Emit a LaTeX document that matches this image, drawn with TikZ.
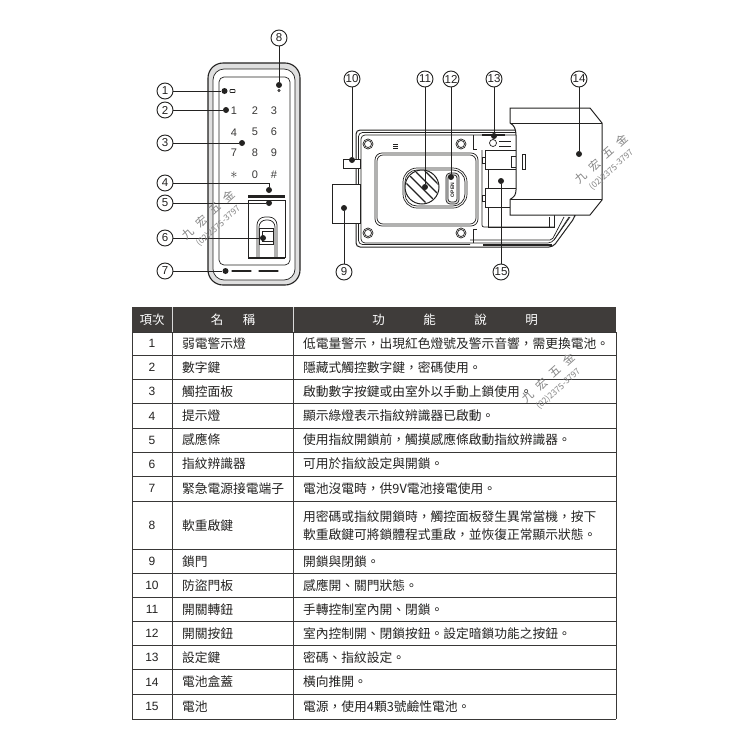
\documentclass[tikz,border=0pt]{standalone}
\usepackage{fontspec}
\setmainfont{Liberation Sans}
\newfontfamily\cjk{Noto Sans CJK TC}
\usetikzlibrary{positioning}
\newcommand{\fwcomma}{\symbol{"FF0C}}
\definecolor{inkdark}{HTML}{232221}
\definecolor{headdark}{HTML}{3F3C3A}
\definecolor{markgray}{HTML}{858585}
\tikzset{
  callout/.style={draw=inkdark, circle, line width=.9pt, minimum size=16pt, inner sep=0pt, font=\fontsize{11.5}{11.5}\selectfont, text=inkdark},
  spot/.style={fill=inkdark, circle, minimum size=6pt, inner sep=0pt},
  leader/.style={draw=inkdark, line width=.9pt},
  outline/.style={draw=inkdark, line width=.7pt},
  keydigit/.style={inner sep=0pt, font=\fontsize{11}{11}\selectfont, text=inkdark!90},
  headtext/.style={inner sep=0pt, text=white, font=\cjk\fontsize{12.5}{12.5}\selectfont},
  numtext/.style={inner sep=0pt, text=inkdark, font=\fontsize{12}{12}\selectfont},
  celltext/.style={inner sep=0pt, anchor=west, text=inkdark, align=left, font=\cjk\fontsize{12.75}{18}\selectfont},
  rowline/.style={draw=inkdark!90, line width=.9pt},
  stamp/.style={inner sep=0pt, rotate=42, text=markgray, align=center, font=\cjk\fontsize{11.5}{11.5}\selectfont}
}
\begin{document}
\begin{tikzpicture}[x=1pt,y=-1pt]
\useasboundingbox (0,0) rectangle (750,750);
\fill[white] (0,0) rectangle (750,750);
\draw[outline, line width=1.1pt, fill=gray!25, rounded corners=15pt] (208,63) rectangle (300,285);
\draw[outline, fill=white, rounded corners=11pt] (213,69) rectangle (295,280);
\draw[outline, rounded corners=5pt] (219,77) rectangle (290,265);
\draw[outline, rounded corners=.5pt] (230,89.5) rectangle (235,92.5);
\draw[outline] (279,90.5) circle[radius=1.2pt];
\node[keydigit] (k1) at (234,111) {1};
\node[keydigit] (k2) at (255,111) {2};
\node[keydigit] (k3) at (274,111) {3};
\node[keydigit] (k4) at (234,133) {4};
\node[keydigit] (k5) at (255,132) {5};
\node[keydigit] (k6) at (274,132) {6};
\node[keydigit] (k7) at (234,153) {7};
\node[keydigit] (k8) at (255,153) {8};
\node[keydigit] (k9) at (274,153) {9};
\node[keydigit] (kstar) at (234,175) {\Large$\ast$};
\node[keydigit] (k0) at (255,175) {0};
\node[keydigit] (khash) at (274,175) {\#};
\fill[inkdark] (248,195) rectangle (285,198);
\draw[outline] (248,200) rectangle (285,257);
\draw[inkdark, line width=1.2pt] (248,258) -- (285,258);
\draw[outline, rounded corners=8pt] (257,257) -- (257,217) -- (277,217) -- (277,257);
\draw[outline, rounded corners=7pt] (259,257) -- (259,220) -- (275,220) -- (275,257);
\draw[outline, fill=white] (259,228) rectangle (273,244);
\draw[outline] (262,231) rectangle (273,241);
\draw[inkdark, line width=1.2pt, line cap=round] (232,271) -- (251,271);
\draw[inkdark, line width=1.2pt, line cap=round] (259,271) -- (278,271);
\draw[outline, line width=1pt, fill=white, rounded corners=4pt] (356,130) -- (520,130) -- (520,210) -- (575,210) -- (575,217) -- (553,247) -- (356,247) -- cycle;
\draw[outline, rounded corners=4pt] (520,132.5) -- (358.5,132.5) -- (358.5,244.5) -- (470,244.5);
\draw[outline, rounded corners=4pt] (520,135) -- (361,135) -- (361,243) -- (552,243) -- (569,217);
\draw[outline, rounded corners=2pt] (470,240) -- (552,240) -- (564,217);
\draw[outline] (570,217) -- (554,240);
\draw[outline] (473,135) -- (473,149) -- (477,149);
\draw[outline] (473,243) -- (473,229) -- (477,229);
\draw[inkdark, line width=1.4pt] (483,245) -- (552,245);
\draw[inkdark, line width=1.2pt] (482,135) -- (505,135);
\draw[outline] (493,143) circle[radius=3.5pt];
\draw[outline] (499,141) -- (511,141);
\draw[outline] (499,146) -- (511,146);
\draw[outline] (393,144) -- (398,144);
\draw[outline] (393,146) -- (398,146);
\draw[outline] (393,148) -- (398,148);
\draw[outline] (368,144) circle[radius=5pt];
\draw[outline] (368,144) circle[radius=3.5pt];
\draw[outline] (461,144) circle[radius=5pt];
\draw[outline] (461,144) circle[radius=3.5pt];
\draw[outline] (368,233) circle[radius=5pt];
\draw[outline] (368,233) circle[radius=3.5pt];
\draw[outline] (461,233) circle[radius=5pt];
\draw[outline] (461,233) circle[radius=3.5pt];
\draw[outline, rounded corners=7pt] (375,153) rectangle (478,226);
\draw[outline, rounded corners=6pt] (377,155) rectangle (476,224);
\draw[outline, rounded corners=14pt] (403,168) rectangle (467,208);
\draw[outline, rounded corners=12pt] (405,170) rectangle (465,206);
\draw[outline, line width=1pt, fill=white] (422,187) circle[radius=17pt];
\begin{scope}
\clip (422,187) circle[radius=16pt];
\draw[inkdark, line width=1.2pt] (400,177) -- (430,207);
\draw[inkdark, line width=1.2pt] (404,170) -- (438,204);
\draw[inkdark, line width=1.2pt] (410,166) -- (444,200);
\draw[inkdark, line width=1.2pt] (414,160) -- (448,194);
\end{scope}
\draw[outline, fill=gray!30, rounded corners=4pt] (446,173) rectangle (459,204);
\draw[outline, fill=white, rounded corners=3pt] (448,175) rectangle (457,202);
\node[rotate=90, inner sep=0pt, text=inkdark, font=\fontsize{5}{5}\selectfont\bfseries] (opentag) at (452.5,190) {OPEN};
\draw[outline, rounded corners=2pt] (482,150) -- (482,227) -- (554,227);
\draw[outline] (485,150) rectangle (518,169);
\draw[outline] (485,157) -- (482.5,157) -- (482.5,163) -- (485,163);
\draw[outline] (488,169) rectangle (518,188);
\draw[outline] (485,188) rectangle (518,207);
\draw[outline] (485,195) -- (482.5,195) -- (482.5,201) -- (485,201);
\draw[outline] (488,207) rectangle (554,227);
\draw[outline] (549,217) -- (549,227);
\draw[outline] (511,156) rectangle (516,167);
\draw[outline, fill=white] (343,159) rectangle (360,168);
\draw[outline, fill=white] (332,184) rectangle (360,223);
\draw[outline, line width=1pt, fill=white] (510,108) -- (590,108) -- (602,123) -- (602,200) -- (590,215) -- (510,215) -- (510,199.5) .. controls (514,197) and (516,195) .. (516,190) -- (516,135) .. controls (516,129) and (514,125) .. (510,123) -- cycle;
\draw[outline] (510,123) -- (602,123);
\draw[outline] (510,199.5) -- (602,199.5);
\draw[outline] (522,154) rectangle (525,169);
\node[callout] (c1) at (165,91) {1};
\node[callout] (c2) at (165,110) {2};
\node[callout] (c3) at (165,143) {3};
\node[callout] (c4) at (165,183) {4};
\node[callout] (c5) at (165,203) {5};
\node[callout] (c6) at (165,238) {6};
\node[callout] (c7) at (165,271) {7};
\node[callout] (c8) at (279,38) {8};
\node[callout] (c9) at (344,272) {9};
\node[callout] (c10) at (352,79) {10};
\node[callout] (c11) at (425,79) {11};
\node[callout] (c12) at (451,79) {12};
\node[callout] (c13) at (494,79) {13};
\node[callout] (c14) at (579,79) {14};
\node[callout] (c15) at (501,272) {15};
\node[spot] (d1) at (224.5,91) {};
\node[spot] (d2) at (226,110) {};
\node[spot] (d3) at (242,143) {};
\node[spot] (d4) at (269,190) {};
\node[spot] (d5) at (269,203) {};
\node[spot] (d6) at (263,238) {};
\node[spot] (d7) at (225.5,271) {};
\node[spot] (d8) at (279,85) {};
\node[spot] (d9) at (344,208) {};
\node[spot] (d10) at (352,160) {};
\node[spot] (d11) at (425,187) {};
\node[spot] (d12) at (451,177) {};
\node[spot] (d13) at (494,136) {};
\node[spot] (d14) at (579,154) {};
\node[spot] (d15) at (501,181) {};
\draw[leader] (c1) -- (d1);
\draw[leader] (c2) -- (d2);
\draw[leader] (c3) -- (d3);
\draw[leader] (c4) -- (c4 -| d4) -- (d4);
\draw[leader] (c5) -- (d5);
\draw[leader] (c6) -- (d6);
\draw[leader] (c7) -- (d7);
\draw[leader] (c8) -- (d8);
\draw[leader] (c9) -- (d9);
\draw[leader] (c10) -- (d10);
\draw[leader] (c11) -- (d11);
\draw[leader] (c12) -- (d12);
\draw[leader] (c13) -- (d13);
\draw[leader] (c14) -- (d14);
\draw[leader] (c15) -- (d15);
\fill[headdark] (132,307) rectangle (616,332);
\draw[white!70!gray, line width=.8pt] (172,307) -- (172,332);
\draw[white!70!gray, line width=.8pt] (293.5,307) -- (293.5,332);
\draw[rowline] (132,332) -- (616,332);
\draw[rowline] (132,355) -- (616,355);
\draw[rowline] (132,379.5) -- (616,379.5);
\draw[rowline] (132,403.5) -- (616,403.5);
\draw[rowline] (132,428) -- (616,428);
\draw[rowline] (132,452) -- (616,452);
\draw[rowline] (132,476) -- (616,476);
\draw[rowline] (132,501) -- (616,501);
\draw[rowline] (132,549.5) -- (616,549.5);
\draw[rowline] (132,573.5) -- (616,573.5);
\draw[rowline] (132,597.5) -- (616,597.5);
\draw[rowline] (132,621.5) -- (616,621.5);
\draw[rowline] (132,645.5) -- (616,645.5);
\draw[rowline] (132,669.5) -- (616,669.5);
\draw[rowline] (132,694) -- (616,694);
\draw[rowline] (132,719) -- (616,719);
\draw[rowline] (132,332) -- (132,719);
\draw[rowline] (172,332) -- (172,719);
\draw[rowline] (293.5,332) -- (293.5,719);
\draw[rowline] (616,332) -- (616,719);
\node[headtext] (headnum) at (152,319.5) {項次};
\node[headtext] (headname) at (233,319.5) {名\hspace{19.5pt}稱};
\node[headtext] (headfunc) at (455,319.5) {功\hspace{38.5pt}能\hspace{38.5pt}說\hspace{38.5pt}明};
\node[numtext] (n1) at (152,343.5) {1};
\node[numtext] (n2) at (152,367.5) {2};
\node[numtext] (n3) at (152,391.5) {3};
\node[numtext] (n4) at (152,416) {4};
\node[numtext] (n5) at (152,440) {5};
\node[numtext] (n6) at (152,464) {6};
\node[numtext] (n7) at (152,488.5) {7};
\node[numtext] (n8) at (152,525.5) {8};
\node[numtext] (n9) at (152,561.5) {9};
\node[numtext] (n10) at (152,585.5) {10};
\node[numtext] (n11) at (152,609.5) {11};
\node[numtext] (n12) at (152,633.5) {12};
\node[numtext] (n13) at (152,657.5) {13};
\node[numtext] (n14) at (152,682) {14};
\node[numtext] (n15) at (152,706.5) {15};
\node[celltext] (p1) at (182,343.5) {弱電警示燈};
\node[celltext] (p2) at (182,367.5) {數字鍵};
\node[celltext] (p3) at (182,391.5) {觸控面板};
\node[celltext] (p4) at (182,416) {提示燈};
\node[celltext] (p5) at (182,440) {感應條};
\node[celltext] (p6) at (182,464) {指紋辨識器};
\node[celltext] (p7) at (182,488.5) {緊急電源接電端子};
\node[celltext] (p8) at (182,525.5) {軟重啟鍵};
\node[celltext] (p9) at (182,561.5) {鎖門};
\node[celltext] (p10) at (182,585.5) {防盜門板};
\node[celltext] (p11) at (182,609.5) {開關轉鈕};
\node[celltext] (p12) at (182,633.5) {開關按鈕};
\node[celltext] (p13) at (182,657.5) {設定鍵};
\node[celltext] (p14) at (182,682) {電池盒蓋};
\node[celltext] (p15) at (182,706.5) {電池};
\node[celltext] (f1) at (303,343.5) {低電量警示\fwcomma{}出現紅色燈號及警示音響\fwcomma{}需更換電池。};
\node[celltext] (f2) at (303,367.5) {隱藏式觸控數字鍵\fwcomma{}密碼使用。};
\node[celltext] (f3) at (303,391.5) {啟動數字按鍵或由室外以手動上鎖使用。};
\node[celltext] (f4) at (303,416) {顯示綠燈表示指紋辨識器已啟動。};
\node[celltext] (f5) at (303,440) {使用指紋開鎖前\fwcomma{}觸摸感應條啟動指紋辨識器。};
\node[celltext] (f6) at (303,464) {可用於指紋設定與開鎖。};
\node[celltext] (f7) at (303,488.5) {電池沒電時\fwcomma{}供9V電池接電使用。};
\node[celltext] (f8) at (303,525.5) {用密碼或指紋開鎖時\fwcomma{}觸控面板發生異常當機\fwcomma{}按下\\軟重啟鍵可將鎖體程式重啟\fwcomma{}並恢復正常顯示狀態。};
\node[celltext] (f9) at (303,561.5) {開鎖與閉鎖。};
\node[celltext] (f10) at (303,585.5) {感應開、關門狀態。};
\node[celltext] (f11) at (303,609.5) {手轉控制室內開、閉鎖。};
\node[celltext] (f12) at (303,633.5) {室內控制開、閉鎖按鈕。設定暗鎖功能之按鈕。};
\node[celltext] (f13) at (303,657.5) {密碼、指紋設定。};
\node[celltext] (f14) at (303,682) {橫向推開。};
\node[celltext] (f15) at (303,706.5) {電源\fwcomma{}使用4顆3號鹼性電池。};
\node[stamp] (stamp1) at (213,220) {九\hspace{.6em}宏\hspace{.6em}五\hspace{.6em}金\\[2pt]{\fontsize{8.5}{8.5}\selectfont (02)2375-3797}};
\node[stamp] (stamp2) at (606,164) {九\hspace{.6em}宏\hspace{.6em}五\hspace{.6em}金\\[2pt]{\fontsize{8.5}{8.5}\selectfont (02)2375-3797}};
\node[stamp] (stamp3) at (553,383) {九\hspace{.6em}宏\hspace{.6em}五\hspace{.6em}金\\[2pt]{\fontsize{8.5}{8.5}\selectfont (02)2375-3797}};
\end{tikzpicture}
\end{document}
